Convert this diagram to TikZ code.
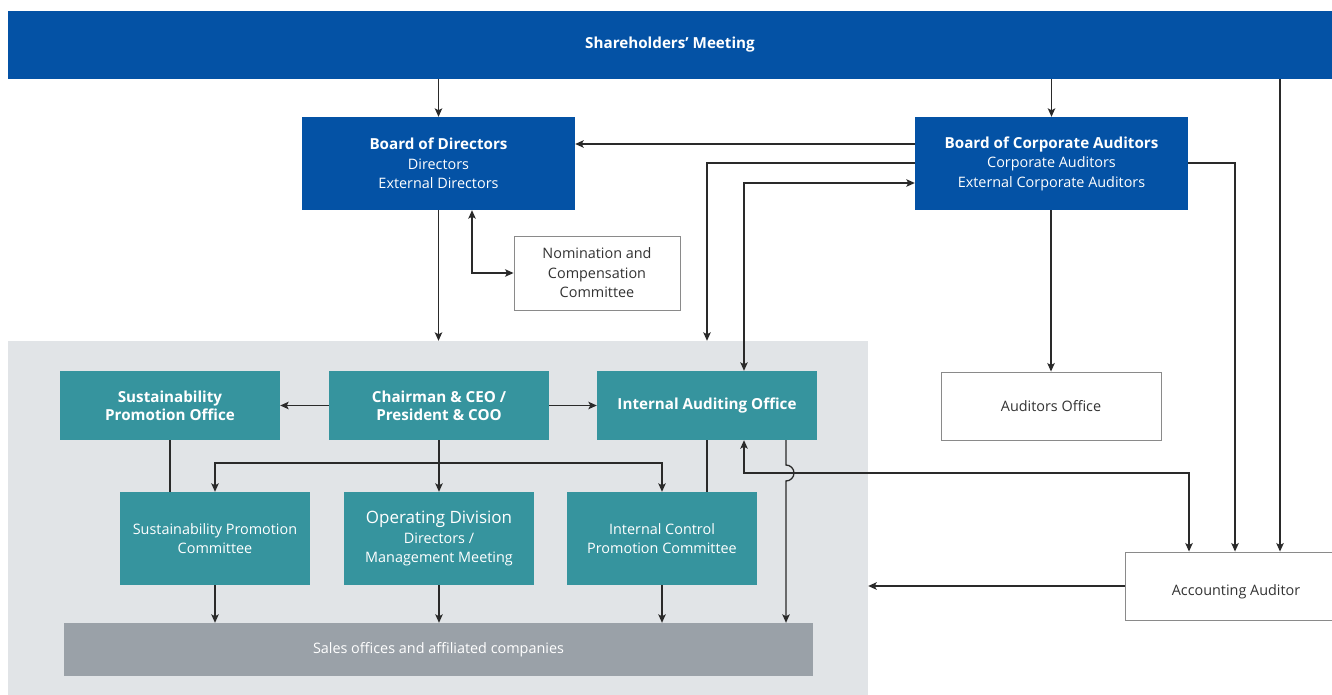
\documentclass[tikz,border=0pt]{standalone}
\usepackage{fontspec}
\setmainfont{Open Sans}
\usetikzlibrary{arrows.meta}
\definecolor{cblue}{HTML}{0452A5}
\definecolor{cteal}{HTML}{36949E}
\definecolor{cbg}{HTML}{E1E4E7}
\definecolor{csales}{HTML}{9AA1A8}
\definecolor{cline}{HTML}{2A2A2A}
\definecolor{cborder}{HTML}{8A8A8A}
\definecolor{ctext}{HTML}{333333}
\newcommand\bt[1]{{\fontsize{15.2}{19.5}\selectfont\bfseries #1}}
\begin{document}
\begin{tikzpicture}[x=1pt,y=-1pt,
  bx/.style={rectangle,inner sep=0pt,align=center,font=\fontsize{14.4}{19.5}\selectfont},
  bluebox/.style={bx,fill=cblue,text=white},
  tealbox/.style={bx,fill=cteal,text=white},
  whitebox/.style={bx,fill=white,draw=cborder,line width=0.9pt,text=ctext},
  conn/.style={draw=cline,line width=1.3pt},
  arr/.style={conn,-{Stealth[length=8.5pt,width=7.5pt,inset=2pt]}},
  arrb/.style={conn,{Stealth[length=8.5pt,width=7.5pt,inset=2pt]}-{Stealth[length=8.5pt,width=7.5pt,inset=2pt]}}]
\useasboundingbox (0,0) rectangle (1332,695);
\fill[white] (0,0) rectangle (1332,695);
% background region
\node[bx,fill=cbg,minimum width=860pt,minimum height=354pt] (bg) at (438,518) {};
% nodes
\node[bluebox,minimum width=1324pt,minimum height=68pt] (shm) at (670,45) {\bt{Shareholders’ Meeting}};
\node[bluebox,minimum width=273pt,minimum height=93pt] (bod) at (438.5,163.5) {\bt{Board of Directors}\\Directors\\External Directors};
\node[bluebox,minimum width=273pt,minimum height=93pt] (bca) at (1051.5,163.5) {\bt{Board of Corporate Auditors}\\Corporate Auditors\\External Corporate Auditors};
\node[whitebox,minimum width=166pt,minimum height=74pt] (nom) at (597,273) {Nomination and\\Compensation\\Committee};
\node[tealbox,minimum width=220pt,minimum height=69pt,font=\fontsize{15.2}{18}\selectfont\bfseries] (spo) at (170,405.5) {Sustainability\\Promotion Office};
\node[tealbox,minimum width=220pt,minimum height=69pt,font=\fontsize{15.2}{18}\selectfont\bfseries] (ceo) at (439,405.5) {Chairman \& CEO /\\President \& COO};
\node[tealbox,minimum width=220pt,minimum height=69pt,font=\fontsize{15.2}{18}\selectfont\bfseries] (iao) at (707,405.5) {Internal Auditing Office};
\node[whitebox,minimum width=220pt,minimum height=68pt] (ao) at (1051,406) {Auditors Office};
\node[tealbox,minimum width=190pt,minimum height=93pt] (spc) at (215,538.5) {Sustainability Promotion\\Committee};
\node[tealbox,minimum width=190pt,minimum height=93pt] (od) at (439,538.5) {{\fontsize{17}{22}\selectfont Operating Division}\\Directors /\\Management Meeting};
\node[tealbox,minimum width=190pt,minimum height=93pt] (icpc) at (662,538.5) {Internal Control\\Promotion Committee};
\node[bx,fill=csales,text=white,minimum width=749pt,minimum height=53pt] (sales) at (438.5,649.5) {Sales offices and affiliated companies};
\node[whitebox,minimum width=222pt,minimum height=68pt,text depth=0pt,text height=13pt] (aa) at (1236,586) {\raisebox{-3pt}{Accounting Auditor}};
% connectors
\draw[arr] (bod.north |- shm.south) -- (bod.north);
\draw[arr] (bca.north |- shm.south) -- (bca.north);
\draw[arr] (1280,0 |- shm.south) -- (1280,0 |- aa.north);
\draw[arr] (bca.west |- 0,144) -- (bod.east |- 0,144);
\draw[arr] (bca.west |- 0,163) -| (bg.north -| iao.north);
\draw[arrb] (iao.north -| 744,0) |- (bca.west |- 0,183);
\draw[arr] (bca.east |- 0,163) -| (1235,0 |- aa.north);
\draw[arr] (ao.north |- bca.south) -- (ao.north);
\draw[arr] (bod.south) -- (bg.north -| bod.south);
\draw[arrb] (bod.south -| 472,0) |- (nom.west);
\draw[arr] (ceo.west) -- (spo.east);
\draw[arr] (ceo.east) -- (iao.west);
\draw[arr] (ceo.south) -- (od.north);
\coordinate (br) at (ceo.south |- 0,463);
\draw[arr] (br) -| (spc.north);
\draw[arr] (br) -| (icpc.north);
\draw[conn] (spo.south) -- (spo.south |- spc.north);
\draw[conn] (iao.south) -- (iao.south |- icpc.north);
\draw[arr] (iao.south -| 786,0) -- (786,465) arc[start angle=90,end angle=-90,radius=8pt] -- (sales.north -| 786,0);
\draw[arrb] (iao.south -| 744,0) |- (1189,473) -- (aa.north -| 1189,0);
\draw[arr] (aa.west) -- (bg.east |- aa.west);
\draw[arr] (spc.south) -- (sales.north -| spc.south);
\draw[arr] (od.south) -- (sales.north -| od.south);
\draw[arr] (icpc.south) -- (sales.north -| icpc.south);
\end{tikzpicture}
\end{document}
